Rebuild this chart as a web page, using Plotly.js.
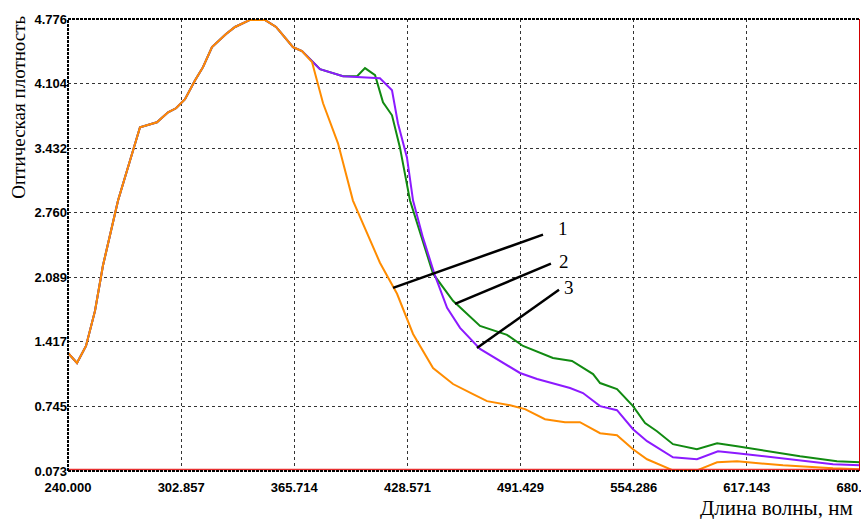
<!DOCTYPE html>
<html><head><meta charset="utf-8">
<script src="https://cdn.plot.ly/plotly-3.0.1.min.js"></script>
<style>html,body{margin:0;padding:0;background:#fff;overflow:hidden;}#c{width:861px;height:519px;}</style>
</head><body><div id="c"></div>
<script>
// Shared part of all three spectra (240–375 nm)
const commonX = [240.0,245.0,250.0,255.0,259.4,267.8,280.0,289.4,295.6,300.0,305.0,310.6,315.0,320.0,327.8,332.8,341.1,349.4,355.6,360.6,365.0,370.0,374.4];
const commonY = [1.301,1.197,1.374,1.739,2.209,2.887,3.649,3.701,3.806,3.847,3.941,4.139,4.275,4.484,4.619,4.693,4.766,4.766,4.693,4.578,4.484,4.442,4.359];

// Curve 2 (green)
const greenX = [380.0,392.8,400.6,405.0,410.6,415.0,420.0,424.4,428.9,430.0,442.8,453.9,468.9,483.9,492.8,509.4,520.0,524.4,531.7,535.6,545.0,553.9,560.6,567.2,576.1,589.4,600.6,611.7,628.3,646.7,667.2,680.0];
const greenY = [4.254,4.181,4.181,4.265,4.192,3.910,3.774,3.440,3.023,2.887,2.126,1.844,1.583,1.489,1.374,1.249,1.218,1.165,1.082,0.988,0.925,0.748,0.571,0.487,0.352,0.299,0.362,0.331,0.279,0.226,0.174,0.164];

// Curve 3 (purple)
const purpleX = [380.0,392.8,402.2,413.3,420.0,423.3,428.3,431.7,437.2,443.9,450.6,457.8,468.9,478.3,491.1,500.6,513.3,518.9,526.1,535.6,545.0,553.9,561.7,576.1,589.4,601.1,611.7,637.2,665.0,680.0];
const purpleY = [4.254,4.181,4.171,4.160,4.035,3.691,3.336,2.887,2.501,2.105,1.771,1.562,1.343,1.239,1.093,1.030,0.967,0.936,0.884,0.748,0.706,0.508,0.383,0.216,0.195,0.279,0.258,0.206,0.143,0.132];

// Curve 1 (orange)
const orangeX = [375.6,381.7,390.0,398.3,413.3,422.8,431.7,442.8,453.9,465.0,472.8,485.6,493.9,505.0,516.1,524.4,535.6,545.0,553.9,561.7,576.1,589.4,600.6,611.7,637.2,665.0,680.0];
const orangeY = [4.327,3.899,3.482,2.887,2.240,1.917,1.499,1.145,0.978,0.873,0.800,0.758,0.717,0.612,0.581,0.581,0.466,0.445,0.299,0.195,0.080,0.080,0.164,0.174,0.132,0.101,0.091];

const xTickVals = [240.000,302.857,365.714,428.571,491.429,554.286,617.143,680.000];
const xTickText = ["240.000","302.857","365.714","428.571","491.429","554.286","617.143","680.000"];
const yTickVals = [0.073,0.745,1.417,2.089,2.760,3.432,4.104,4.776];
const yTickText = ["0.073","0.745","1.417","2.089","2.760","3.432","4.104","4.776"];

const baselineY = 0.088;
const xMin = 240, xMax = 680, yMin = 0.073, yMax = 4.776;

// Leader lines for labels: [x0,y0,x1,y1,labelX,labelY,label]
const leaders = [
  [420.6,1.979,503.9,2.532,515.0,2.595,"1"],
  [455.0,1.812,508.3,2.230,515.5,2.251,"2"],
  [467.2,1.353,512.8,1.959,518.3,1.979,"3"]
];

const traces = [
  {x: commonX.concat(greenX), y: commonY.concat(greenY), mode:'lines', line:{color:'#118a11', width:2}, hoverinfo:'skip'},
  {x: commonX.concat(purpleX), y: commonY.concat(purpleY), mode:'lines', line:{color:'#8c1aff', width:2}, hoverinfo:'skip'},
  {x: commonX.concat(orangeX), y: commonY.concat(orangeY), mode:'lines', line:{color:'#ff8c00', width:2}, hoverinfo:'skip'}
];

const shapes = [
  {type:'line', xref:'x', yref:'y', x0:xMin, x1:xMax, y0:baselineY, y1:baselineY, line:{color:'#e83030', width:1.5}},
  {type:'line', xref:'x', yref:'paper', x0:xMax, x1:xMax, y0:0, y1:1, line:{color:'#d00000', width:2}},
  {type:'line', xref:'paper', yref:'paper', x0:0, x1:0, y0:0, y1:1, line:{color:'#000', width:2, dash:'3px,1px'}},
  {type:'line', xref:'paper', yref:'paper', x0:0, x1:1, y0:1, y1:1, line:{color:'#000', width:2, dash:'3px,1px'}},
  {type:'line', xref:'paper', yref:'paper', x0:0, x1:1, y0:0, y1:0, line:{color:'#000', width:2, dash:'3px,1px'}}
];
const annotations = [
  {xref:'paper', yref:'paper', x:-0.0625, y:0.805, text:'Оптическая плотность', textangle:-90, showarrow:false,
   font:{family:'Liberation Serif, Times New Roman, serif', size:19, color:'#000'}, xanchor:'center', yanchor:'middle'},
  {xref:'paper', yref:'paper', x:0.9937, y:-0.082, text:'Длина волны, нм', showarrow:false,
   font:{family:'Liberation Serif, Times New Roman, serif', size:21, color:'#000'}, xanchor:'right', yanchor:'middle'}
];
leaders.forEach(l => {
  shapes.push({type:'line', xref:'x', yref:'y', x0:l[0], y0:l[1], x1:l[2], y1:l[3], line:{color:'#000', width:2.5}});
  annotations.push({xref:'x', yref:'y', x:l[4], y:l[5], text:l[6], showarrow:false,
    font:{family:'Liberation Serif, Times New Roman, serif', size:19, color:'#000'}, xanchor:'center', yanchor:'middle'});
});

const tickFont = {family:'Liberation Sans, Arial, sans-serif', size:13, color:'#000', weight:'bold'};
const layout = {
  width:861, height:519,
  margin:{l:68, r:1, t:19, b:48},
  paper_bgcolor:'#fff', plot_bgcolor:'#fff',
  showlegend:false,
  xaxis:{range:[xMin,xMax], tickvals:xTickVals, ticktext:xTickText, tickfont:tickFont, ticklabeloverflow:'allow',
    showgrid:true, gridcolor:'#333', griddash:'3px,3px', gridwidth:1, zeroline:false, showline:false,
    ticks:'outside', ticklen:4, tickcolor:'rgba(0,0,0,0)'},
  yaxis:{range:[yMin,yMax], tickvals:yTickVals, ticktext:yTickText, tickfont:tickFont, ticklabeloverflow:'allow',
    showgrid:true, gridcolor:'#333', griddash:'3px,3px', gridwidth:1, zeroline:false, showline:false, ticks:''},
  shapes:shapes, annotations:annotations
};
Plotly.newPlot('c', traces, layout, {staticPlot:true, displayModeBar:false});
</script></body></html>
